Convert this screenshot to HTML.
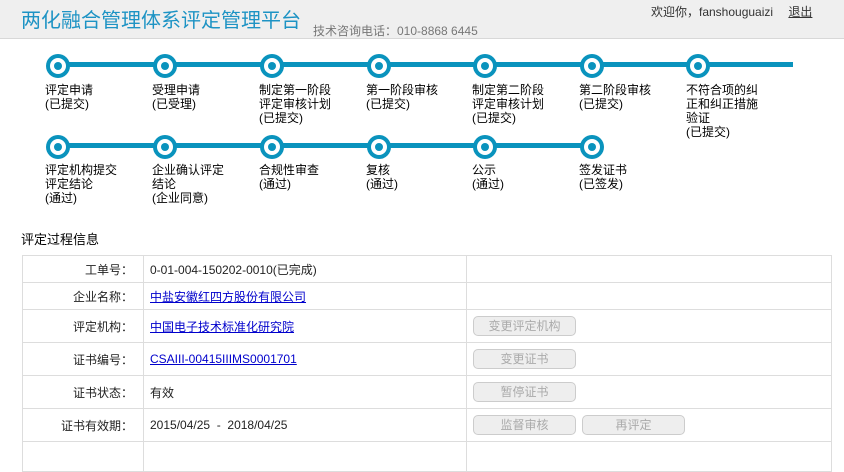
<!DOCTYPE html>
<html><head><meta charset="utf-8"><style>
body{margin:0;width:844px;height:455px;overflow:hidden;background:#fff;font-family:"Liberation Sans","Noto Sans CJK SC",sans-serif;font-size:12px;color:#000;position:relative}
.hdr{position:absolute;left:0;top:0;width:844px;height:38px;background:#efefef;border-bottom:1px solid #d8d8d8}
.t{position:absolute;left:21px;top:4px;font-size:20px;color:#1d93c4;white-space:nowrap}
.ph{position:absolute;left:313px;top:22px;font-size:12px;color:#777;white-space:nowrap}
.wl{position:absolute;left:651px;top:3px;font-size:12px;color:#333;white-space:nowrap}
.wl u{margin-left:12px}
.ln{position:absolute;height:5px;background:#0a93bd}
.c{position:absolute;width:24px;height:24px;border-radius:50%;background:#0a93bd}
.c::before{content:"";position:absolute;left:4px;top:4px;width:16px;height:16px;border-radius:50%;background:#fff}
.c::after{content:"";position:absolute;left:8px;top:8px;width:8px;height:8px;border-radius:50%;background:#0a93bd}
.lb{position:absolute;font-size:12px;line-height:14px;white-space:nowrap;color:#000}
.sec{position:absolute;left:21px;top:229px;font-size:13px}
table{position:absolute;left:22px;top:255px;border-collapse:collapse;width:810px;table-layout:fixed}
td{border:1px solid #ddd;font-size:12px;color:#222;padding:0 6px;box-sizing:border-box;overflow:hidden;white-space:nowrap}
td.k{text-align:right;padding-right:10px}
a{color:#00c;text-decoration:underline}
.b{display:inline-block;width:101px;height:18px;border:1px solid #ccc;border-radius:5px;background:#eee;color:#aaa;text-align:center;line-height:18px;font-size:12px;margin-right:6px;vertical-align:middle}
</style></head><body>
<div class="hdr"></div>
<div class="t">两化融合管理体系评定管理平台</div>
<div class="ph">技术咨询电话：010-8868 6445</div>
<div class="wl">欢迎你，fanshouguaizi <u>退出</u></div>

<div class="ln" style="left:58px;top:62px;width:735px"></div>
<div class="c" style="left:46px;top:54px"></div>
<div class="c" style="left:153px;top:54px"></div>
<div class="c" style="left:260px;top:54px"></div>
<div class="c" style="left:367px;top:54px"></div>
<div class="c" style="left:473px;top:54px"></div>
<div class="c" style="left:580px;top:54px"></div>
<div class="c" style="left:686px;top:54px"></div>
<div class="lb" style="left:45px;top:83px">评定申请<br>(已提交)</div>
<div class="lb" style="left:152px;top:83px">受理申请<br>(已受理)</div>
<div class="lb" style="left:259px;top:83px">制定第一阶段<br>评定审核计划<br>(已提交)</div>
<div class="lb" style="left:366px;top:83px">第一阶段审核<br>(已提交)</div>
<div class="lb" style="left:472px;top:83px">制定第二阶段<br>评定审核计划<br>(已提交)</div>
<div class="lb" style="left:579px;top:83px">第二阶段审核<br>(已提交)</div>
<div class="lb" style="left:686px;top:83px">不符合项的纠<br>正和纠正措施<br>验证<br>(已提交)</div>

<div class="ln" style="left:58px;top:143px;width:534px"></div>
<div class="c" style="left:46px;top:135px"></div>
<div class="c" style="left:153px;top:135px"></div>
<div class="c" style="left:260px;top:135px"></div>
<div class="c" style="left:367px;top:135px"></div>
<div class="c" style="left:473px;top:135px"></div>
<div class="c" style="left:580px;top:135px"></div>
<div class="lb" style="left:45px;top:163px">评定机构提交<br>评定结论<br>(通过)</div>
<div class="lb" style="left:152px;top:163px">企业确认评定<br>结论<br>(企业同意)</div>
<div class="lb" style="left:259px;top:163px">合规性审查<br>(通过)</div>
<div class="lb" style="left:366px;top:163px">复核<br>(通过)</div>
<div class="lb" style="left:472px;top:163px">公示<br>(通过)</div>
<div class="lb" style="left:579px;top:163px">签发证书<br>(已签发)</div>

<div class="sec">评定过程信息</div>
<table>
<colgroup><col style="width:121px"><col style="width:323px"><col></colgroup>
<tr style="height:27px"><td class="k">工单号：</td><td>0-01-004-150202-0010(已完成)</td><td></td></tr>
<tr style="height:27px"><td class="k">企业名称：</td><td><a>中盐安徽红四方股份有限公司</a></td><td></td></tr>
<tr style="height:33px"><td class="k">评定机构：</td><td><a>中国电子技术标准化研究院</a></td><td><span class="b">变更评定机构</span></td></tr>
<tr style="height:33px"><td class="k">证书编号：</td><td><a>CSAIII-00415IIIMS0001701</a></td><td><span class="b">变更证书</span></td></tr>
<tr style="height:33px"><td class="k">证书状态：</td><td>有效</td><td><span class="b">暂停证书</span></td></tr>
<tr style="height:33px"><td class="k">证书有效期：</td><td>2015/04/25 &nbsp;- &nbsp;2018/04/25</td><td><span class="b">监督审核</span><span class="b">再评定</span></td></tr>
<tr style="height:30px"><td class="k"></td><td></td><td></td></tr>
</table>
</body></html>
